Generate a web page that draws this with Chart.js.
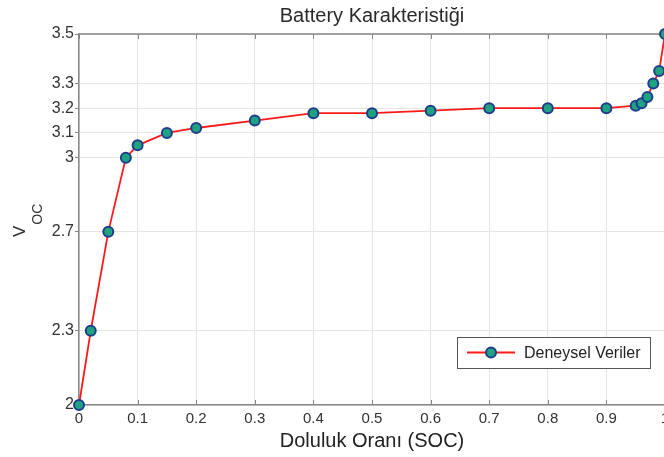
<!DOCTYPE html>
<html>
<head>
<meta charset="utf-8">
<script src="https://cdn.jsdelivr.net/npm/chart.js@4"></script>
<style>
  html, body { margin: 0; padding: 0; background: #fff; overflow: hidden; }
  #wrap { position: relative; width: 672px; height: 457px; }
</style>
</head>
<body>
<div id="wrap"><canvas id="graph"></canvas></div>
<script>
// measured points
const soc = [0, 0.02, 0.05, 0.08, 0.1, 0.15, 0.2, 0.3, 0.4, 0.5, 0.6, 0.7, 0.8, 0.9, 0.95, 0.96, 0.97, 0.98, 0.99, 1.0];
const voc = [2.0, 2.3, 2.7, 3.0, 3.05, 3.1, 3.12, 3.15, 3.18, 3.18, 3.19, 3.2, 3.2, 3.2, 3.21, 3.22, 3.245, 3.3, 3.35, 3.5];
const yTicks = [2, 2.3, 2.7, 3, 3.1, 3.2, 3.3, 3.5];
const xTicks = [0, 0.1, 0.2, 0.3, 0.4, 0.5, 0.6, 0.7, 0.8, 0.9, 1];
const seriesName = 'Deneysel Veriler';
const chartTitle = 'Battery Karakteristiği';
const xTitle = 'Doluluk Oranı (SOC)';

const FONT = 'Arial, "Liberation Sans", Helvetica, sans-serif';
const LINE = '#ff1a1a';
const MARK_FILL = '#1ea282';
const MARK_EDGE = '#1f3d8c';

// title centred over the plot box (matlab puts it there, not over the canvas)
const plotTitle = {
  id: 'plotTitle',
  afterDraw(chart) {
    const ctx = chart.ctx;
    const a = chart.chartArea;
    ctx.save();
    ctx.fillStyle = '#2a2a2a';
    ctx.font = '20px ' + FONT;
    ctx.textAlign = 'center';
    ctx.textBaseline = 'middle';
    ctx.fillText(chartTitle, (a.left + a.right) / 2, 16);
    ctx.restore();
  }
};

// y label with subscript
const yLabel = {
  id: 'yLabel',
  afterDraw(chart) {
    const ctx = chart.ctx;
    ctx.save();
    ctx.translate(25, 237);
    ctx.rotate(-Math.PI / 2);
    ctx.fillStyle = '#333';
    ctx.textBaseline = 'alphabetic';
    ctx.font = '17px ' + FONT;
    const wV = ctx.measureText('V').width;
    ctx.fillText('V', 0, 0);
    ctx.font = '14px ' + FONT;
    ctx.fillText('OC', wV + 1, 17);
    ctx.restore();
  }
};

// plot frame with small inward ticks on top and bottom
const frame = {
  id: 'frame',
  beforeDatasetsDraw(chart) {
    const ctx = chart.ctx;
    const a = chart.chartArea;
    const xs = chart.scales.x;
    ctx.save();
    ctx.strokeStyle = '#888';
    ctx.lineWidth = 1.5;
    ctx.beginPath();
    ctx.moveTo(a.left, a.top);
    ctx.lineTo(a.right, a.top);
    ctx.lineTo(a.right, a.bottom);
    ctx.stroke();
    ctx.lineWidth = 1;
    ctx.beginPath();
    xs.ticks.forEach(t => {
      const px = Math.round(xs.getPixelForValue(t.value)) + 0.5;
      ctx.moveTo(px, a.top);
      ctx.lineTo(px, a.top + 5);
      ctx.moveTo(px, a.bottom);
      ctx.lineTo(px, a.bottom - 5);
    });
    ctx.stroke();
    ctx.restore();
  }
};

// legend box inside the plot, bottom right
const boxLegend = {
  id: 'boxLegend',
  afterDraw(chart) {
    const ctx = chart.ctx;
    const a = chart.chartArea;
    const w = 193, h = 31;
    const x = a.right - 15 - w, y = a.bottom - 37 - h;
    ctx.save();
    ctx.fillStyle = '#fff';
    ctx.fillRect(x, y, w, h);
    ctx.strokeStyle = '#555';
    ctx.lineWidth = 1;
    ctx.strokeRect(x + 0.5, y + 0.5, w, h);
    const cy = y + h / 2;
    ctx.strokeStyle = LINE;
    ctx.lineWidth = 2;
    ctx.beginPath();
    ctx.moveTo(x + 10, cy);
    ctx.lineTo(x + 58, cy);
    ctx.stroke();
    ctx.beginPath();
    ctx.arc(x + 34, cy, 5, 0, Math.PI * 2);
    ctx.fillStyle = MARK_FILL;
    ctx.fill();
    ctx.strokeStyle = MARK_EDGE;
    ctx.lineWidth = 2;
    ctx.stroke();
    ctx.fillStyle = '#222';
    ctx.font = '16px ' + FONT;
    ctx.textBaseline = 'middle';
    ctx.fillText(chart.data.datasets[0].label, x + 67, cy + 1);
    ctx.restore();
  }
};

new Chart(document.getElementById('graph'), {
  type: 'line',
  data: {
    datasets: [{
      label: seriesName,
      data: soc.map((s, i) => ({ x: s, y: voc[i] })),
      borderColor: LINE,
      borderWidth: 1.8,
      pointRadius: 5,
      pointBackgroundColor: MARK_FILL,
      pointBorderColor: MARK_EDGE,
      pointBorderWidth: 2,
      tension: 0,
      fill: false,
      clip: false,
    }],
  },
  options: {
    responsive: true,
    maintainAspectRatio: false,
    animation: false,
    layout: { padding: { top: 34, right: 7, left: 0, bottom: 0 } },
    plugins: {
      legend: { display: false },
      tooltip: { enabled: false },
      title: { display: false },
    },
    scales: {
      x: {
        type: 'linear',
        min: 0,
        max: 1,
        afterBuildTicks: (axis) => { axis.ticks = xTicks.map(v => ({ value: v })); },
        afterFit: (axis) => { axis.height = 52; axis.paddingRight = 0; },
        grid: { color: '#e4e4e4', drawTicks: false },
        border: { color: '#888', width: 1.5 },
        ticks: {
          color: '#333',
          padding: 5,
          maxRotation: 0,
          font: { family: FONT, size: 15 },
          callback: (v) => String(v),
        },
        title: {
          display: true,
          text: xTitle,
          color: '#222',
          font: { family: FONT, size: 20 },
          padding: { top: 0, bottom: 4 },
        },
      },
      y: {
        min: 2,
        max: 3.5,
        afterBuildTicks: (axis) => { axis.ticks = yTicks.map(v => ({ value: v })); },
        afterFit: (axis) => { axis.width = 79; },
        grid: { color: '#e4e4e4', drawTicks: true, tickLength: 4, tickColor: '#888' },
        border: { color: '#888', width: 1.5 },
        ticks: {
          color: '#333',
          padding: 1,
          font: { family: FONT, size: 16 },
          callback: (v) => String(v),
        },
      },
    },
  },
  plugins: [plotTitle, yLabel, frame, boxLegend],
});
</script>
</body>
</html>
